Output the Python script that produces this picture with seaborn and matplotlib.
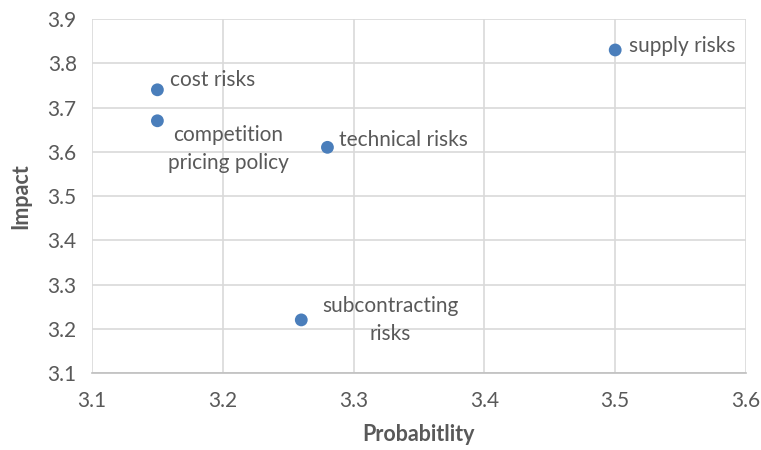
import matplotlib
matplotlib.use("Agg")
import matplotlib.pyplot as plt
import seaborn as sns
import pandas as pd

# Risk assessment data
risks = ["cost risks", "competition\npricing policy", "technical risks",
         "supply risks", "subcontracting\nrisks"]
probability = [3.15, 3.15, 3.28, 3.50, 3.26]
impact = [3.74, 3.67, 3.61, 3.83, 3.22]

x_ticks = [3.1, 3.2, 3.3, 3.4, 3.5, 3.6]
y_ticks = [3.1, 3.2, 3.3, 3.4, 3.5, 3.6, 3.7, 3.8, 3.9]

df = pd.DataFrame({"Probabitlity": probability, "Impact": impact, "risk": risks})

sns.set_style("white")
plt.rcParams["font.family"] = ["Lato", "DejaVu Sans"]

text_color = "#595959"
grid_color = "#d9d9d9"

fig = plt.figure(figsize=(7.61, 4.50), dpi=100)
ax = fig.add_axes([92 / 761, 1 - 373 / 450, 654 / 761, 354 / 450])

sns.scatterplot(data=df, x="Probabitlity", y="Impact", ax=ax,
                color="#4a7ebb", s=85, edgecolor="none", zorder=3)

ax.set_xlim(x_ticks[0], x_ticks[-1])
ax.set_ylim(y_ticks[0], y_ticks[-1])
ax.set_xticks(x_ticks)
ax.set_yticks(y_ticks)
ax.set_xticklabels([f"{v:.1f}" for v in x_ticks])
ax.set_yticklabels([f"{v:.1f}" for v in y_ticks])
ax.tick_params(axis="both", length=0, labelsize=15, labelcolor=text_color)
ax.tick_params(axis="x", pad=13)
ax.tick_params(axis="y", pad=11)

ax.grid(True, color=grid_color, linewidth=1.2, zorder=0)
ax.set_axisbelow(True)
for side in ["top", "right", "left"]:
    ax.spines[side].set_visible(False)
ax.spines["bottom"].set_color("#bfbfbf")
ax.spines["bottom"].set_linewidth(1.2)

ax.set_xlabel("Probabitlity", fontsize=15.5, fontweight="bold", color=text_color, labelpad=9)
ax.set_ylabel("Impact", fontsize=15.5, fontweight="bold", color=text_color, labelpad=12)

# Data labels: (dx, dy) offsets in points and alignment per risk
label_style = {
    "cost risks": ((9, 7), "left", "center"),
    "competition\npricing policy": ((51, -20), "center", "center"),
    "technical risks": ((8, 5), "left", "center"),
    "supply risks": ((10, 3), "left", "center"),
    "subcontracting\nrisks": ((64, 0), "center", "center"),
}
for name, px, py in zip(risks, probability, impact):
    (dx, dy), ha, va = label_style[name]
    ax.annotate(name, (px, py), xytext=(dx, dy), textcoords="offset points",
                ha=ha, va=va, multialignment="center", fontsize=15,
                color=text_color, linespacing=1.5)

fig.savefig("out.png", dpi=100)
